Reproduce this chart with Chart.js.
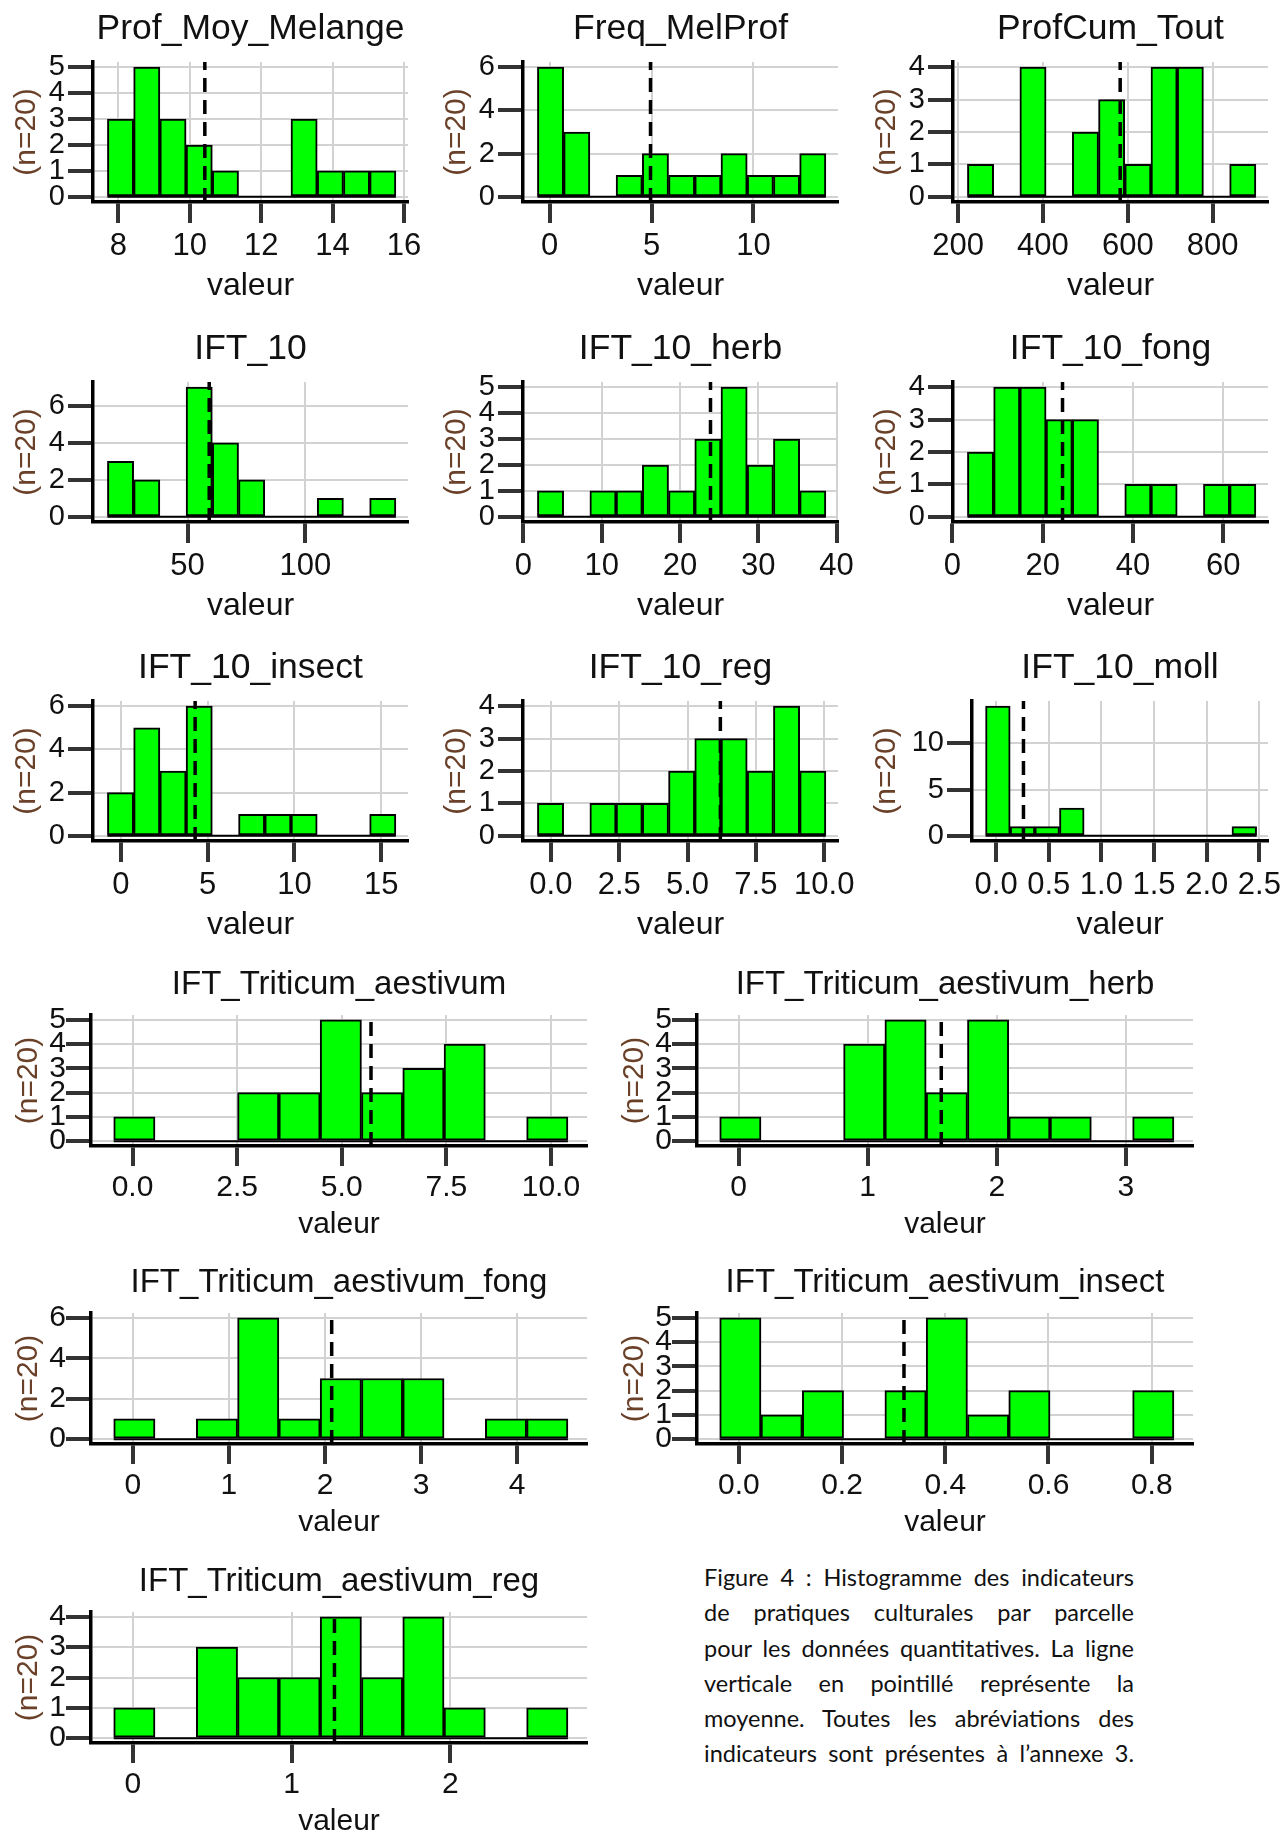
<!DOCTYPE html>
<html lang="fr">
<head>
<meta charset="utf-8">
<title>Histogrammes des indicateurs de pratiques culturales</title>
<script src="https://cdn.jsdelivr.net/npm/chart.js@4.4.1/dist/chart.umd.min.js"></script>
<style>
html, body { margin: 0; padding: 0; background: #fff; width: 1287px; height: 1833px; overflow: hidden; }
canvas { position: absolute; }
#caption { position: absolute; left: 704px; top: 1560px; width: 430px;
  font-family: Lato, "Open Sans", sans-serif; font-size: 23.5px; color: #111; }
#caption div { line-height: 35.3px; text-align: justify; text-align-last: justify; white-space: nowrap; }
</style>
</head>
<body>
<div id="charts"></div>
<div id="caption">
  <div>Figure 4 : Histogramme des indicateurs</div>
  <div>de pratiques culturales par parcelle</div>
  <div>pour les données quantitatives. La ligne</div>
  <div>verticale en pointillé représente la</div>
  <div>moyenne. Toutes les abréviations des</div>
  <div>indicateurs sont présentes à l’annexe 3.</div>
</div>
<script>
// one entry per histogram, in reading order
var titles = ['Prof_Moy_Melange', 'Freq_MelProf', 'ProfCum_Tout',
              'IFT_10', 'IFT_10_herb', 'IFT_10_fong',
              'IFT_10_insect', 'IFT_10_reg', 'IFT_10_moll',
              'IFT_Triticum_aestivum', 'IFT_Triticum_aestivum_herb',
              'IFT_Triticum_aestivum_fong', 'IFT_Triticum_aestivum_insect',
              'IFT_Triticum_aestivum_reg'];

var binStart = [7.69, -0.6, 222, 16.0, 1.79, 3.33, -0.77, -0.49, -0.10,
                -0.45, -0.147, -0.20, -0.037, -0.12];
var binWidth = [0.735, 1.287, 61.8, 11.13, 3.35, 5.81, 1.51, 0.959, 0.234,
                0.987, 0.32, 0.43, 0.08, 0.26];

var counts = [
  [3, 5, 3, 2, 1, 0, 0, 3, 1, 1, 1],
  [6, 3, 0, 1, 2, 1, 1, 2, 1, 1, 2],
  [1, 0, 4, 0, 2, 3, 1, 4, 4, 0, 1],
  [3, 2, 0, 7, 4, 2, 0, 0, 1, 0, 1],
  [1, 0, 1, 1, 2, 1, 3, 5, 2, 3, 1],
  [2, 4, 4, 3, 3, 0, 1, 1, 0, 1, 1],
  [2, 5, 3, 6, 0, 1, 1, 1, 0, 0, 1],
  [1, 0, 1, 1, 1, 2, 3, 3, 2, 4, 2],
  [14, 1, 1, 3, 0, 0, 0, 0, 0, 0, 1],
  [1, 0, 0, 2, 2, 5, 2, 3, 4, 0, 1],
  [1, 0, 0, 4, 5, 2, 5, 1, 1, 0, 1],
  [1, 0, 1, 6, 1, 3, 3, 3, 0, 1, 1],
  [5, 1, 2, 0, 2, 5, 1, 2, 0, 0, 2],
  [1, 0, 3, 2, 2, 4, 2, 4, 1, 0, 1]
];

var means = [10.42, 4.95, 582, 59.2, 23.9, 24.4, 4.28, 6.2, 0.26,
             5.70, 1.57, 2.07, 0.32, 1.27];

var xTicks = [
  ['8', '10', '12', '14', '16'],
  ['0', '5', '10'],
  ['200', '400', '600', '800'],
  ['50', '100'],
  ['0', '10', '20', '30', '40'],
  ['0', '20', '40', '60'],
  ['0', '5', '10', '15'],
  ['0.0', '2.5', '5.0', '7.5', '10.0'],
  ['0.0', '0.5', '1.0', '1.5', '2.0', '2.5'],
  ['0.0', '2.5', '5.0', '7.5', '10.0'],
  ['0', '1', '2', '3'],
  ['0', '1', '2', '3', '4'],
  ['0.0', '0.2', '0.4', '0.6', '0.8'],
  ['0', '1', '2']
];

var yTicks = [
  [0, 1, 2, 3, 4, 5], [0, 2, 4, 6], [0, 1, 2, 3, 4],
  [0, 2, 4, 6], [0, 1, 2, 3, 4, 5], [0, 1, 2, 3, 4],
  [0, 2, 4, 6], [0, 1, 2, 3, 4], [0, 5, 10],
  [0, 1, 2, 3, 4, 5], [0, 1, 2, 3, 4, 5],
  [0, 2, 4, 6], [0, 1, 2, 3, 4, 5], [0, 1, 2, 3, 4]
];

var yLabel = '(n=20)';
var xLabel = 'valeur';

// panel boxes (page layout)
var panels = [];
for (var i = 0; i < 9; i++) {
  var col = i % 3, row = Math.floor(i / 3);
  panels.push({ left: [0, 430, 860][col], top: [0, 320, 639][row], w: col == 2 ? 427 : 430, h: 320,
    axisX: i == 8 ? 112 : 93, plotRight: 408, titleY: 29, plotTop: 62, axisY: 202,
    tickY: 246, labY: 286, yTitleX: 27, titleSize: 35.5, tickSize: 31, yTickSize: 29, labSize: 32,
    tickLen: 21, yTickPad: 3 });
}
for (var i = 0; i < 5; i++) {
  var col = i % 2, row = Math.floor(i / 2);
  panels.push({ left: col * 606, top: [955, 1253, 1552][row], w: 606, h: 290,
    axisX: 91, plotRight: 587, titleY: 30, plotTop: 60, axisY: 191,
    tickY: 233, labY: 270, yTitleX: 29, titleSize: 33, tickSize: 30, yTickSize: 30, labSize: 30,
    tickLen: 20, yTickPad: 0 });
}

Chart.defaults.font.family = '"Liberation Sans", Arial, sans-serif';

function drawPanel(i) {
  var p = panels[i];
  var canvas = document.createElement('canvas');
  canvas.width = p.w;
  canvas.height = p.h;
  canvas.style.left = p.left + 'px';
  canvas.style.top = p.top + 'px';
  document.getElementById('charts').appendChild(canvas);

  var c = counts[i];
  var start = binStart[i], bw = binWidth[i];
  var end = start + bw * c.length;
  var range = end - start;
  var maxc = Math.max.apply(null, c);
  var ymin = -0.04 * maxc, ymax = 1.04 * maxc;

  var bars = c.map(function (v, j) { return { x: start + (j + 0.5) * bw, y: v }; });
  var meanLine = [{ x: means[i], y: ymin }, { x: means[i], y: ymax }];
  var base = [{ x: start, y: 0 }, { x: end, y: 0 }];

  var tLh = p.titleSize * 1.2, xLh = p.tickSize * 1.2, labLh = p.labSize * 1.2, yLabLh = 30 * 1.2;

  new Chart(canvas.getContext('2d'), {
    type: 'bar',
    data: {
      datasets: [
        { type: 'line', data: meanLine, borderColor: '#000', borderWidth: 3.5,
          borderDash: [14, 8], pointRadius: 0, order: 0 },
        { type: 'bar', data: bars, backgroundColor: '#00ff00', borderColor: '#000',
          borderWidth: 2, borderSkipped: false, barPercentage: 1, categoryPercentage: 1, order: 1 },
        { type: 'line', data: base, borderColor: '#000', borderWidth: 2, pointRadius: 0, order: 2 }
      ]
    },
    options: {
      responsive: false,
      animation: false,
      events: [],
      layout: { padding: { left: 0, right: p.w - p.plotRight, top: 0, bottom: 0 } },
      plugins: {
        legend: { display: false },
        tooltip: { enabled: false },
        title: {
          display: true, text: titles[i], fullSize: false, color: '#111',
          font: { size: p.titleSize, weight: 'normal' },
          padding: { top: p.titleY - tLh / 2, bottom: p.plotTop - p.titleY - tLh / 2 }
        }
      },
      scales: {
        x: {
          type: 'linear', min: start - 0.05 * range, max: end + 0.042 * range,
          offset: false, bounds: 'data',
          afterBuildTicks: function (s) { s.ticks = xTicks[i].map(function (t) { return { value: parseFloat(t) }; }); },
          afterFit: function (s) { s.height = p.h - p.axisY; },
          grid: { offset: false, color: '#d2d2d2', lineWidth: 2, tickColor: '#333', tickWidth: 4, tickLength: p.tickLen },
          border: { color: '#000', width: 3.5 },
          ticks: { autoSkip: false, maxRotation: 0, color: '#111', font: { size: p.tickSize },
            padding: p.tickY - p.axisY - p.tickLen - xLh / 2,
            callback: function (v, idx) { return xTicks[i][idx]; } },
          title: { display: true, text: xLabel, color: '#111', font: { size: p.labSize },
            padding: { top: 0, bottom: p.h - p.labY - labLh / 2 } }
        },
        y: {
          type: 'linear', min: ymin, max: ymax, bounds: 'data',
          afterBuildTicks: function (s) { s.ticks = yTicks[i].map(function (v) { return { value: v }; }); },
          afterFit: function (s) { s.width = p.axisX; },
          grid: { color: '#d2d2d2', lineWidth: 2, tickColor: '#333', tickWidth: 4, tickLength: 25 },
          border: { color: '#000', width: 3.5 },
          ticks: { autoSkip: false, color: '#111', font: { size: p.yTickSize }, padding: p.yTickPad,
            callback: function (v) { return String(v); } },
          title: { display: true, text: yLabel, color: '#6a4028', font: { size: 30 },
            padding: { top: p.yTitleX - yLabLh / 2, bottom: 0 } }
        }
      }
    }
  });
}

for (var k = 0; k < titles.length; k++) drawPanel(k);
</script>
</body>
</html>
